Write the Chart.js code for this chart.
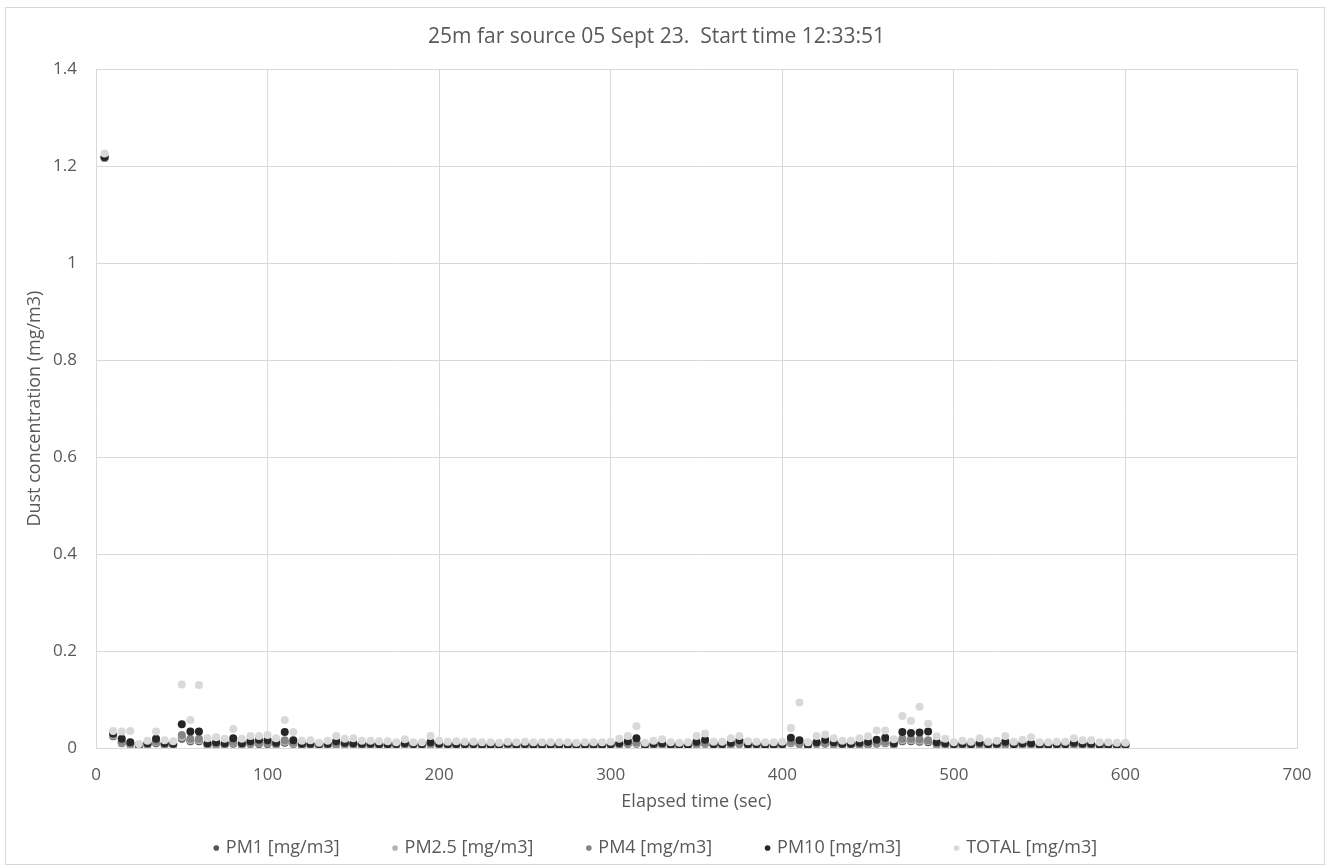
<!DOCTYPE html>
<html>
<head>
<meta charset="utf-8">
<script src="https://cdn.jsdelivr.net/npm/chart.js@4/dist/chart.umd.min.js"></script>
<style>
  body { margin: 0; background: #fff; }
  #frame { position: absolute; left: 5px; top: 7px; width: 1318px; height: 856px; border: 1px solid #d9d9d9; overflow: hidden; }
  canvas { display: block; }
</style>
</head>
<body>
<div id="frame"><canvas id="dustChart" width="1318" height="856"></canvas></div>
<script>
// Elapsed time (sec), one reading every 5 s
const elapsed = [
  5, 10, 15, 20, 25, 30, 35, 40, 45, 50,
  55, 60, 65, 70, 75, 80, 85, 90, 95, 100,
  105, 110, 115, 120, 125, 130, 135, 140, 145, 150,
  155, 160, 165, 170, 175, 180, 185, 190, 195, 200,
  205, 210, 215, 220, 225, 230, 235, 240, 245, 250,
  255, 260, 265, 270, 275, 280, 285, 290, 295, 300,
  305, 310, 315, 320, 325, 330, 335, 340, 345, 350,
  355, 360, 365, 370, 375, 380, 385, 390, 395, 400,
  405, 410, 415, 420, 425, 430, 435, 440, 445, 450,
  455, 460, 465, 470, 475, 480, 485, 490, 495, 500,
  505, 510, 515, 520, 525, 530, 535, 540, 545, 550,
  555, 560, 565, 570, 575, 580, 585, 590, 595, 600
];

const pm1 = [
  1.217, 0.024, 0.010, 0.007, 0.004, 0.006, 0.010, 0.006, 0.006, 0.019,
  0.014, 0.014, 0.006, 0.007, 0.006, 0.009, 0.006, 0.008, 0.008, 0.008,
  0.007, 0.011, 0.008, 0.005, 0.005, 0.005, 0.005, 0.007, 0.007, 0.006,
  0.005, 0.005, 0.005, 0.005, 0.005, 0.006, 0.005, 0.005, 0.007, 0.006,
  0.005, 0.005, 0.005, 0.005, 0.004, 0.004, 0.004, 0.005, 0.004, 0.005,
  0.004, 0.004, 0.004, 0.004, 0.004, 0.004, 0.004, 0.004, 0.004, 0.005,
  0.006, 0.008, 0.009, 0.004, 0.005, 0.006, 0.004, 0.004, 0.004, 0.007,
  0.008, 0.005, 0.005, 0.006, 0.008, 0.005, 0.005, 0.004, 0.004, 0.005,
  0.010, 0.008, 0.004, 0.008, 0.009, 0.007, 0.006, 0.006, 0.006, 0.007,
  0.009, 0.010, 0.006, 0.014, 0.014, 0.013, 0.012, 0.007, 0.006, 0.005,
  0.005, 0.005, 0.006, 0.005, 0.005, 0.007, 0.005, 0.006, 0.006, 0.004,
  0.004, 0.005, 0.005, 0.006, 0.005, 0.005, 0.004, 0.004, 0.004, 0.004
];

const pm25 = [
  1.218, 0.026, 0.011, 0.008, 0.005, 0.007, 0.012, 0.007, 0.007, 0.022,
  0.016, 0.016, 0.007, 0.008, 0.007, 0.011, 0.007, 0.009, 0.010, 0.010,
  0.008, 0.013, 0.009, 0.006, 0.006, 0.006, 0.006, 0.008, 0.008, 0.007,
  0.006, 0.006, 0.006, 0.006, 0.006, 0.007, 0.006, 0.006, 0.008, 0.007,
  0.006, 0.006, 0.006, 0.006, 0.005, 0.005, 0.005, 0.006, 0.005, 0.006,
  0.005, 0.005, 0.005, 0.005, 0.005, 0.005, 0.005, 0.005, 0.005, 0.006,
  0.007, 0.009, 0.010, 0.005, 0.006, 0.007, 0.005, 0.005, 0.005, 0.008,
  0.009, 0.006, 0.006, 0.007, 0.009, 0.006, 0.006, 0.005, 0.005, 0.006,
  0.011, 0.009, 0.005, 0.009, 0.010, 0.008, 0.007, 0.007, 0.007, 0.008,
  0.010, 0.011, 0.007, 0.016, 0.016, 0.015, 0.014, 0.008, 0.007, 0.006,
  0.006, 0.006, 0.007, 0.006, 0.006, 0.008, 0.006, 0.007, 0.007, 0.005,
  0.005, 0.006, 0.006, 0.007, 0.006, 0.006, 0.005, 0.005, 0.005, 0.005
];

const pm4 = [
  1.218, 0.028, 0.013, 0.009, 0.005, 0.008, 0.014, 0.008, 0.008, 0.027,
  0.019, 0.019, 0.008, 0.009, 0.008, 0.013, 0.008, 0.010, 0.011, 0.011,
  0.009, 0.016, 0.011, 0.007, 0.007, 0.007, 0.007, 0.009, 0.009, 0.008,
  0.007, 0.007, 0.007, 0.007, 0.007, 0.008, 0.007, 0.007, 0.009, 0.008,
  0.007, 0.007, 0.007, 0.007, 0.006, 0.006, 0.006, 0.007, 0.006, 0.007,
  0.006, 0.006, 0.006, 0.006, 0.006, 0.006, 0.006, 0.006, 0.006, 0.007,
  0.008, 0.010, 0.012, 0.006, 0.007, 0.008, 0.006, 0.006, 0.006, 0.009,
  0.011, 0.007, 0.007, 0.008, 0.010, 0.007, 0.007, 0.006, 0.006, 0.007,
  0.013, 0.010, 0.006, 0.010, 0.011, 0.009, 0.008, 0.008, 0.008, 0.009,
  0.011, 0.013, 0.008, 0.019, 0.019, 0.018, 0.016, 0.009, 0.008, 0.007,
  0.007, 0.007, 0.008, 0.007, 0.007, 0.009, 0.007, 0.008, 0.008, 0.006,
  0.006, 0.007, 0.007, 0.008, 0.007, 0.007, 0.006, 0.006, 0.006, 0.006
];

const pm10 = [
  1.219, 0.030, 0.019, 0.012, 0.006, 0.010, 0.019, 0.010, 0.009, 0.049,
  0.034, 0.034, 0.010, 0.012, 0.010, 0.020, 0.010, 0.014, 0.017, 0.016,
  0.011, 0.033, 0.016, 0.009, 0.009, 0.008, 0.009, 0.014, 0.011, 0.010,
  0.009, 0.009, 0.008, 0.008, 0.008, 0.010, 0.008, 0.008, 0.012, 0.009,
  0.008, 0.008, 0.008, 0.008, 0.007, 0.007, 0.007, 0.009, 0.007, 0.008,
  0.007, 0.007, 0.007, 0.007, 0.007, 0.007, 0.007, 0.007, 0.007, 0.008,
  0.010, 0.014, 0.020, 0.007, 0.009, 0.010, 0.007, 0.007, 0.007, 0.013,
  0.017, 0.008, 0.008, 0.011, 0.016, 0.008, 0.008, 0.007, 0.007, 0.008,
  0.021, 0.016, 0.007, 0.012, 0.017, 0.012, 0.009, 0.009, 0.011, 0.013,
  0.017, 0.021, 0.010, 0.033, 0.031, 0.032, 0.034, 0.012, 0.010, 0.008,
  0.009, 0.008, 0.011, 0.008, 0.009, 0.013, 0.008, 0.010, 0.010, 0.007,
  0.007, 0.008, 0.008, 0.011, 0.009, 0.009, 0.007, 0.007, 0.007, 0.007
];

const total = [
  1.226, 0.035, 0.034, 0.035, 0.008, 0.015, 0.034, 0.016, 0.014, 0.131,
  0.058, 0.130, 0.020, 0.022, 0.019, 0.039, 0.019, 0.025, 0.025, 0.027,
  0.020, 0.058, 0.033, 0.015, 0.016, 0.011, 0.015, 0.025, 0.019, 0.020,
  0.015, 0.015, 0.014, 0.014, 0.012, 0.018, 0.012, 0.012, 0.025, 0.015,
  0.013, 0.014, 0.013, 0.013, 0.012, 0.012, 0.011, 0.013, 0.012, 0.013,
  0.012, 0.012, 0.012, 0.012, 0.012, 0.011, 0.012, 0.012, 0.012, 0.013,
  0.019, 0.025, 0.045, 0.011, 0.015, 0.018, 0.012, 0.011, 0.012, 0.025,
  0.030, 0.013, 0.013, 0.020, 0.025, 0.014, 0.013, 0.012, 0.012, 0.013,
  0.041, 0.094, 0.012, 0.025, 0.028, 0.020, 0.015, 0.015, 0.020, 0.024,
  0.036, 0.036, 0.018, 0.066, 0.056, 0.085, 0.050, 0.024, 0.019, 0.012,
  0.015, 0.013, 0.020, 0.013, 0.015, 0.025, 0.013, 0.017, 0.022, 0.012,
  0.012, 0.013, 0.013, 0.020, 0.016, 0.016, 0.012, 0.012, 0.011, 0.011
];

const seriesNames = ['PM1 [mg/m3]', 'PM2.5 [mg/m3]', 'PM4 [mg/m3]', 'PM10 [mg/m3]', 'TOTAL [mg/m3]'];
const seriesColors = ['#555555', '#b2b2b2', '#858585', '#262626', '#d9d9d9'];
const yTicks = [0, 0.2, 0.4, 0.6, 0.8, 1, 1.2, 1.4];
const xTicks = [0, 100, 200, 300, 400, 500, 600, 700];

const TEXT = '#595959';
const GRID = '#d9d9d9';
const FONT = 'Open Sans';

const toPoints = (vals) => vals.map((v, i) => ({ x: elapsed[i], y: v }));

const datasets = [pm1, pm25, pm4, pm10, total].map((vals, i) => ({
    label: seriesNames[i],
    data: toPoints(vals),
    backgroundColor: seriesColors[i],
    borderColor: seriesColors[i],
    borderWidth: 0,
    pointRadius: 4,
    pointHoverRadius: 4,
    order: 4 - i, // later series drawn on top, like the spreadsheet
}));

new Chart(document.getElementById('dustChart'), {
    type: 'scatter',
    data: { datasets },
    options: {
        responsive: false,
        animation: false,
        layout: { padding: { left: 10, right: 27, top: 0, bottom: -3 } },
        plugins: {
            title: {
                display: true,
                text: '25m far source 05 Sept 23.  Start time 12:33:51',
                color: TEXT,
                font: { family: FONT, size: 21, weight: 'normal' },
                padding: { top: 16, bottom: 20 },
            },
            legend: {
                position: 'bottom',
                labels: {
                    color: TEXT,
                    font: { family: FONT, size: 18 },
                    usePointStyle: true,
                    pointStyle: 'circle',
                    boxWidth: 1,
                    boxHeight: 4,
                    padding: 55,
                    sort: (a, b) => a.datasetIndex - b.datasetIndex,
                },
            },
            tooltip: { enabled: false },
        },
        scales: {
            x: {
                type: 'linear',
                min: 0,
                max: 700,
                afterBuildTicks: (s) => { s.ticks = xTicks.map((v) => ({ value: v })); },
                afterFit: (s) => { s.height = 36; s.paddingRight = 0; },
                grid: { color: GRID, drawTicks: false },
                border: { color: GRID },
                ticks: {
                    color: TEXT,
                    font: { family: FONT, size: 17 },
                    padding: 17,
                    callback: (v) => String(v),
                },
                title: {
                    display: true,
                    text: 'Elapsed time (sec)',
                    color: TEXT,
                    font: { family: FONT, size: 18 },
                    padding: { top: 0, bottom: -29 },
                },
            },
            y: {
                min: 0,
                max: 1.4,
                afterBuildTicks: (s) => { s.ticks = yTicks.map((v) => ({ value: v })); },
                afterFit: (s) => { s.width = 80; },
                grid: { color: GRID, drawTicks: false },
                border: { display: false },
                ticks: {
                    color: TEXT,
                    font: { family: FONT, size: 17 },
                    padding: 19,
                    callback: (v) => String(v),
                },
                title: {
                    display: true,
                    text: 'Dust concentration (mg/m3)',
                    color: TEXT,
                    font: { family: FONT, size: 18 },
                    padding: { top: 8, bottom: 0 },
                },
            },
        },
    },
});
</script>
</body>
</html>
